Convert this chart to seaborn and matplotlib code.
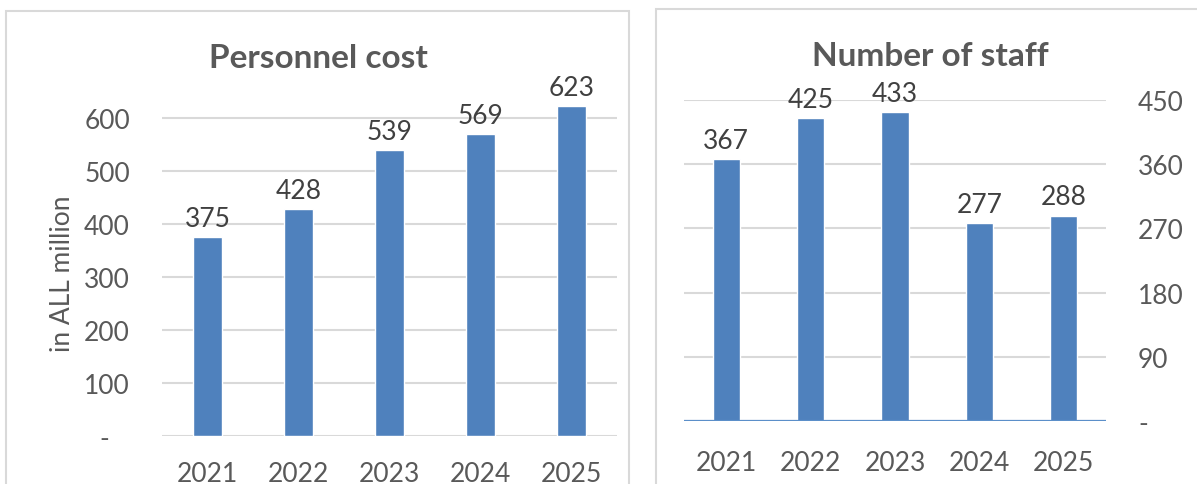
import matplotlib
matplotlib.use("Agg")
import matplotlib.pyplot as plt
from matplotlib import font_manager
from matplotlib.patches import Rectangle
import seaborn as sns
import pandas as pd

# Data
years = ["2021", "2022", "2023", "2024", "2025"]
personnel_cost = [375, 428, 539, 569, 623]   # in ALL million
staff_count = [367, 425, 433, 277, 288]

cost_ticks = [0, 100, 200, 300, 400, 500, 600]
cost_tick_labels = ["-   ", "100", "200", "300", "400", "500", "600"]
staff_ticks = [0, 90, 180, 270, 360, 450]
staff_tick_labels = ["-", "90", "180", "270", "360", "450"]

sns.set_theme(style="white")

installed = {f.name for f in font_manager.fontManager.ttflist}
family = [f for f in ["Liberation Sans Narrow", "Lato", "DejaVu Sans"] if f in installed]
plt.rcParams["font.family"] = family

BAR = "#4F81BD"
GRID = "#D9D9D9"
TICK = "#595959"
LABEL = "#404040"

W, H = 1197, 485
fig = plt.figure(figsize=(W / 100, H / 100), dpi=100)
fig.patch.set_facecolor("white")


def px_axes(x0, x1, ybot, ytop):
    return fig.add_axes([x0 / W, 1 - ybot / H, (x1 - x0) / W, (ybot - ytop) / H])


# Panel frames
fig.add_artist(Rectangle((6 / W, 1 - 500 / H), (629 - 6) / W, (500 - 12) / H,
                         transform=fig.transFigure, fill=False, ec=GRID, lw=1.5))
fig.add_artist(Rectangle((656 / W, 1 - 500 / H), (1220 - 656) / W, (500 - 10) / H,
                         transform=fig.transFigure, fill=False, ec=GRID, lw=1.5))

FS = 19
TFS = 24

# Personnel cost
df1 = pd.DataFrame({"year": years, "value": personnel_cost})
ax1 = px_axes(162, 617, 437, 92.5)
sns.barplot(data=df1, x="year", y="value", order=years, color=BAR, saturation=1,
            width=0.32, ax=ax1, zorder=2)
ax1.set_ylim(0, 650)
ax1.set_xlim(-0.5, 4.5)
ax1.set_yticks(cost_ticks)
ax1.set_yticklabels(cost_tick_labels)
ax1.yaxis.grid(True, color=GRID, lw=1.5)
ax1.set_axisbelow(True)
for s in ax1.spines.values():
    s.set_visible(False)
ax1.tick_params(axis="both", length=0, labelsize=FS, colors=TICK)
ax1.tick_params(axis="y", pad=23)
ax1.tick_params(axis="x", pad=18)
ax1.set_xlabel("")
ax1.set_ylabel("")
for i, v in enumerate(personnel_cost):
    ax1.annotate(f"{v}", (i, v), xytext=(0, 8), textcoords="offset points",
                 ha="center", va="baseline", fontsize=FS, color=LABEL)
fig.text(63 / W, 1 - 274 / H, "in ALL million", rotation=90, ha="center", va="center",
         fontsize=FS, color=TICK)
fig.text(318 / W, 1 - 58 / H, "Personnel cost", ha="center", va="center",
         fontsize=TFS, fontweight="bold", color=TICK)

# Number of staff
df2 = pd.DataFrame({"year": years, "value": staff_count})
ax2 = px_axes(684, 1106, 422, 101)
sns.barplot(data=df2, x="year", y="value", order=years, color=BAR, saturation=1,
            width=0.32, ax=ax2, zorder=2)
ax2.set_ylim(0, 450)
ax2.set_xlim(-0.5, 4.5)
ax2.yaxis.tick_right()
ax2.set_yticks(staff_ticks)
ax2.set_yticklabels(staff_tick_labels)
ax2.yaxis.grid(True, color=GRID, lw=1.5)
ax2.set_axisbelow(True)
for s in ax2.spines.values():
    s.set_visible(False)
ax2.axhline(0, color="#5B8FC9", lw=1.6, zorder=3)
ax2.tick_params(axis="both", length=0, labelsize=FS, colors=TICK)
ax2.tick_params(axis="y", pad=23)
ax2.tick_params(axis="x", pad=21)
ax2.set_xlabel("")
ax2.set_ylabel("")
for i, v in enumerate(staff_count):
    ax2.annotate(f"{v}", (i, v), xytext=(0, 8), textcoords="offset points",
                 ha="center", va="baseline", fontsize=FS, color=LABEL, zorder=4)
fig.text(930 / W, 1 - 57 / H, "Number of staff", ha="center", va="center",
         fontsize=TFS, fontweight="bold", color=TICK)

fig.savefig("out.png", dpi=100, facecolor="white")
